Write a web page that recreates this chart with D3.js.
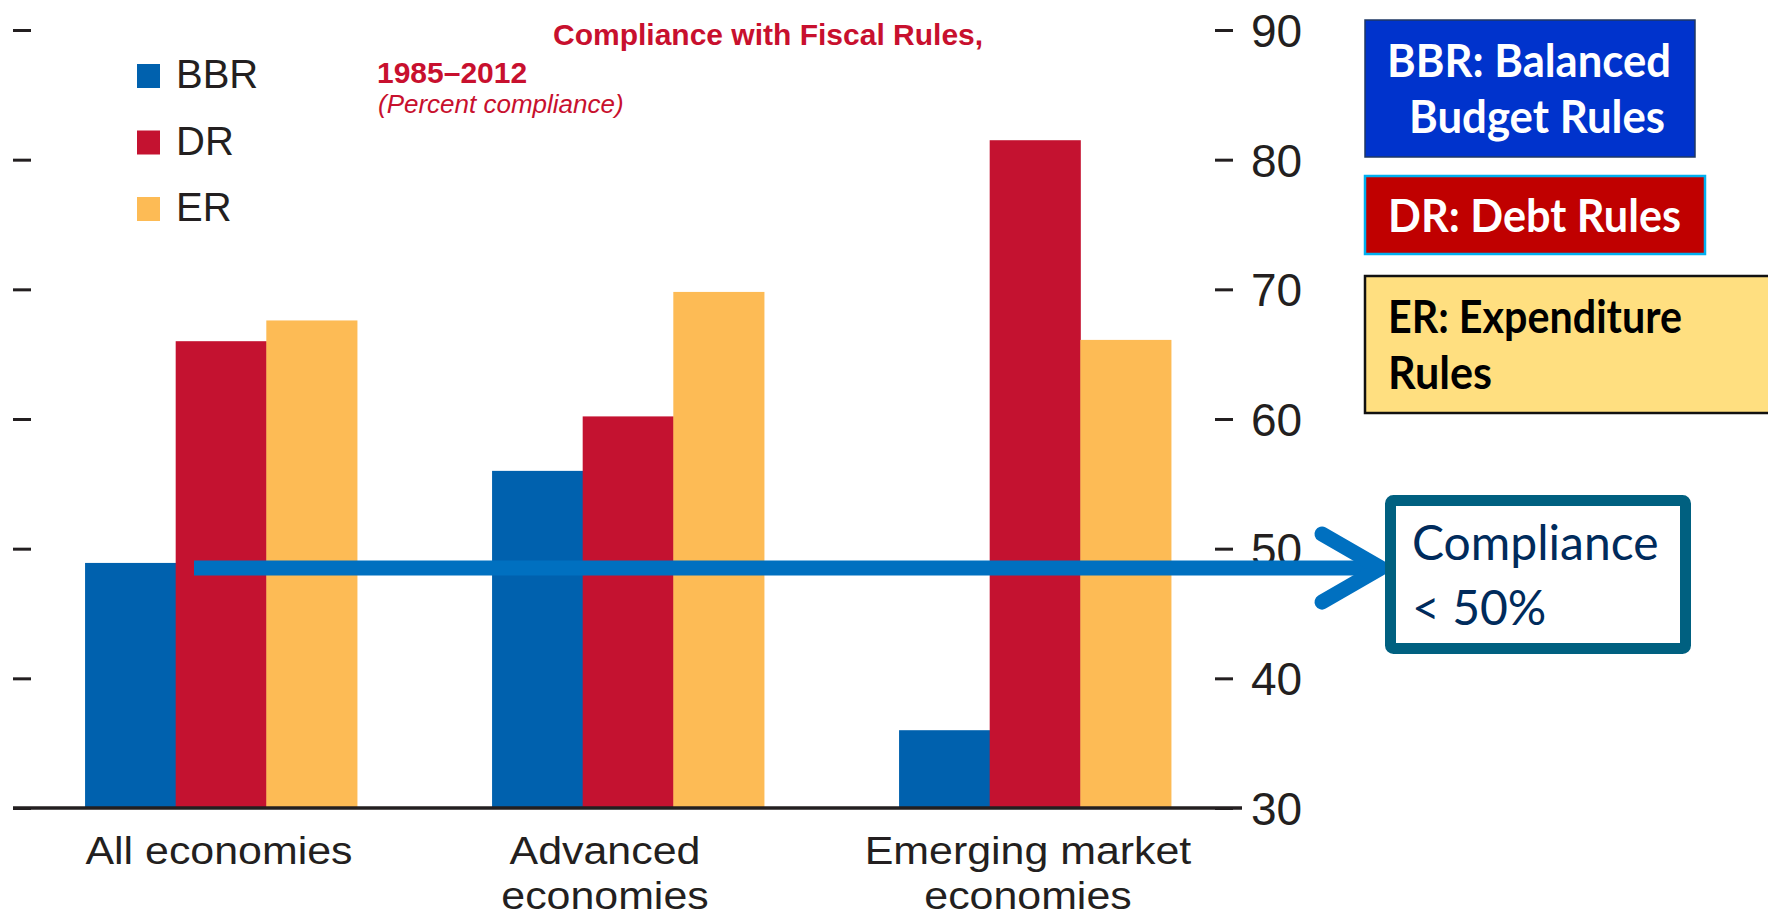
<!DOCTYPE html>
<html lang="en">
<head>
    <meta charset="UTF-8">
    <title>Compliance with Fiscal Rules</title>
    <script src="https://d3js.org/d3.v7.min.js"></script>
    <style>
        body { margin: 0; background: #fff; }
        svg { display: block; }
        .axis-text { font-family: "Liberation Sans", Arial, sans-serif; fill: #231f20; }
        .box-text { font-family: Lato, "Open Sans", sans-serif; font-weight: bold; }
    </style>
</head>
<body>
    <svg id="chart" width="1768" height="919"></svg>

    <script>
        // data
        const groups = ["All economies", "Advanced economies", "Emerging market economies"];
        const groupLines = [["All economies"], ["Advanced", "economies"], ["Emerging market", "economies"]];
        const series = ["BBR", "DR", "ER"];
        const bbr = [48.9, 56.0, 36.0];
        const dr = [66.0, 60.2, 81.5];
        const er = [67.6, 69.8, 66.1];
        const yTicks = [30, 40, 50, 60, 70, 80, 90];
        const titleLines = ["Compliance with Fiscal Rules,", "1985\u20132012", "(Percent compliance)"];
        const keyBoxes = [
            ["BBR: Balanced", " Budget Rules"],
            ["DR: Debt Rules"],
            ["ER: Expenditure", "Rules"]
        ];
        const noteLines = ["Compliance", "< 50%"];
        const threshold = 48.5;

        const colors = { BBR: "#0061ae", DR: "#c41230", ER: "#fdbb55" };
        const values = { BBR: bbr, DR: dr, ER: er };

        const svg = d3.select("#chart");

        const x = d3.scaleBand().domain(groups).range([17.5, 1238.5]).paddingInner(0.332).paddingOuter(0.166);
        const xs = d3.scaleBand().domain(series).range([0, x.bandwidth()]);
        const y = d3.scaleLinear().domain([30, 90]).range([808, 30]);

        // bars
        const gBars = svg.append("g");
        groups.forEach((g, i) => {
            gBars.selectAll(null)
                .data(series)
                .enter()
                .append("rect")
                .attr("x", s => x(g) + xs(s))
                .attr("width", xs.bandwidth() + 0.5)
                .attr("y", s => y(values[s][i]))
                .attr("height", s => y(30) - y(values[s][i]))
                .attr("fill", s => colors[s]);
        });

        // left ticks (no labels)
        const leftAxis = svg.append("g")
            .attr("transform", "translate(13,0)")
            .call(d3.axisLeft(y).tickValues(yTicks).tickSize(-18).tickFormat(""));
        leftAxis.select(".domain").remove();
        leftAxis.selectAll("line").attr("stroke", "#231f20").attr("stroke-width", 3);

        // right axis
        const rightAxis = svg.append("g")
            .attr("transform", "translate(1215,0)")
            .call(d3.axisRight(y).tickValues(yTicks).tickSize(18).tickPadding(18));
        rightAxis.select(".domain").remove();
        rightAxis.selectAll("line").attr("stroke", "#231f20").attr("stroke-width", 3);
        rightAxis.selectAll("text")
            .attr("class", "axis-text")
            .style("font-size", "46px")
            .attr("dy", "0.36em");

        // baseline
        svg.append("line")
            .attr("x1", 13).attr("x2", 1242)
            .attr("y1", y(30)).attr("y2", y(30))
            .attr("stroke", "#231f20").attr("stroke-width", 3.5);

        // category labels
        const labelShift = [-2, -23, -7];
        groups.forEach((g, i) => {
            groupLines[i].forEach((line, j) => {
                svg.append("text")
                    .attr("class", "axis-text")
                    .attr("x", x(g) + x.bandwidth() / 2 + labelShift[i])
                    .attr("y", 864 + j * 45)
                    .attr("text-anchor", "middle")
                    .style("font-size", "39px")
                    .attr("transform-origin", `${x(g) + x.bandwidth() / 2 + labelShift[i]}px 0px`)
                    .attr("transform", "scale(1.1,1)")
                    .text(line);
            });
        });

        // legend
        const legend = svg.append("g");
        series.forEach((s, i) => {
            legend.append("rect")
                .attr("x", 137).attr("y", 64 + i * 66.5)
                .attr("width", 23).attr("height", 24)
                .attr("fill", colors[s]);
            legend.append("text")
                .attr("class", "axis-text")
                .attr("x", 176).attr("y", 88 + i * 66.5)
                .style("font-size", "40px")
                .text(s);
        });

        // title
        const titleFont = "'Liberation Sans', Arial, sans-serif";
        svg.append("text").attr("x", 553).attr("y", 45)
            .style("font", "bold 30px " + titleFont).attr("fill", "#c8102e").text(titleLines[0]);
        svg.append("text").attr("x", 377).attr("y", 83)
            .style("font", "bold 30px " + titleFont).attr("fill", "#c8102e").text(titleLines[1]);
        svg.append("text").attr("x", 378).attr("y", 113)
            .style("font", "italic 26px " + titleFont).attr("fill", "#c8102e").text(titleLines[2]);

        // key boxes on the right
        const boxSpecs = [
            { x: 1365, y: 20, w: 330, h: 137, fill: "#0033cc", stroke: "#1f3864", sw: 1.5, color: "#fff",
              lines: [[1387, 77, 284], [1409, 133, 256]] },
            { x: 1365, y: 176, w: 340, h: 78, fill: "#c00000", stroke: "#00b0f0", sw: 2.5, color: "#fff",
              lines: [[1388, 232, 293]] },
            { x: 1365, y: 276, w: 420, h: 137, fill: "#ffdf80", stroke: "#111", sw: 2.5, color: "#000",
              lines: [[1388, 333, 294], [1388, 389, 104]] }
        ];
        boxSpecs.forEach((b, i) => {
            svg.append("rect")
                .attr("x", b.x).attr("y", b.y).attr("width", b.w).attr("height", b.h)
                .attr("fill", b.fill).attr("stroke", b.stroke).attr("stroke-width", b.sw);
            keyBoxes[i].forEach((t, j) => {
                const [tx, ty, tl] = b.lines[j];
                svg.append("text")
                    .attr("class", "box-text")
                    .attr("x", tx).attr("y", ty)
                    .attr("textLength", tl)
                    .attr("lengthAdjust", "spacingAndGlyphs")
                    .attr("fill", b.color)
                    .style("font-size", "45px")
                    .text(t.trim());
            });
        });

        // arrow at the 50% mark
        const ay = y(threshold);
        svg.append("line")
            .attr("x1", 194).attr("x2", 1380)
            .attr("y1", ay).attr("y2", ay)
            .attr("stroke", "#0070c0").attr("stroke-width", 15);
        svg.append("path")
            .attr("d", d3.line()([[1322, ay - 34], [1381, ay], [1322, ay + 34]]))
            .attr("fill", "none").attr("stroke", "#0070c0").attr("stroke-width", 15)
            .attr("stroke-linecap", "round").attr("stroke-linejoin", "round");

        // note box
        svg.append("rect")
            .attr("x", 1390.5).attr("y", 500.5).attr("width", 295).attr("height", 148)
            .attr("rx", 3)
            .attr("fill", "#fff").attr("stroke", "#006080").attr("stroke-width", 11);
        noteLines.forEach((t, j) => {
            svg.append("text")
                .attr("x", 1412).attr("y", 560 + j * 65)
                .style("font", "48px Lato, 'Open Sans', sans-serif")
                .attr("fill", "#002b5c")
                .text(t);
        });
    </script>
</body>
</html>
